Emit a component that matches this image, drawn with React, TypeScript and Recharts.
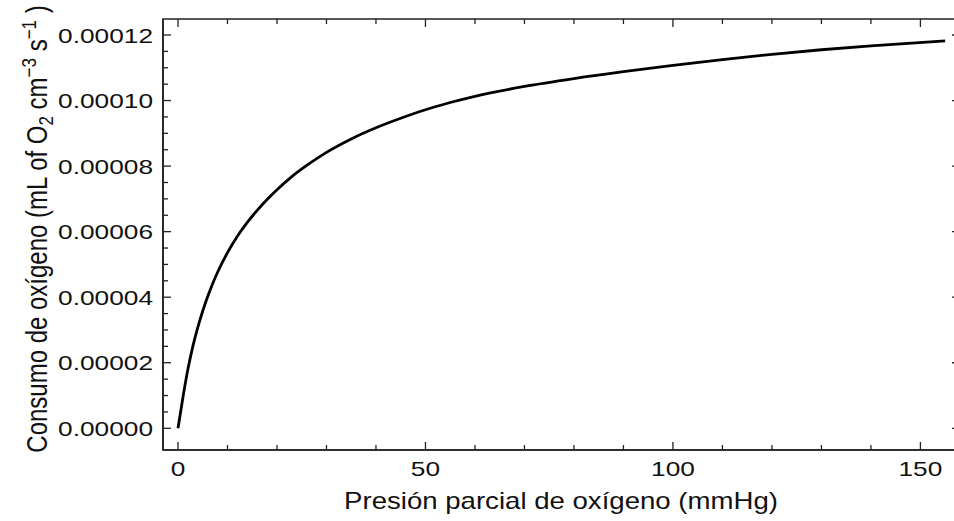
import React from "react";
import { LineChart, Line, XAxis, YAxis, ReferenceArea } from "recharts";

// partial pressure of O2 (mmHg) and the consumption
const pressure = [0, 1, 2, 3, 4, 5, 6, 7, 8, 10, 12, 14, 16, 18, 20, 23, 26, 30, 35, 40, 45, 50, 55, 60, 70, 80, 90, 100, 110, 120, 130, 140, 155];
const consumption = [
    0, 0.95e-5, 1.8e-5, 2.5e-5, 3.08e-5, 3.58e-5, 4.02e-5, 4.41e-5, 4.76e-5, 5.36e-5, 5.86e-5, 6.28e-5, 6.65e-5,
    6.98e-5, 7.28e-5, 7.68e-5, 8.02e-5, 8.42e-5, 8.83e-5, 9.17e-5, 9.46e-5, 9.72e-5, 9.94e-5, 10.13e-5, 10.43e-5,
    10.67e-5, 10.88e-5, 11.07e-5, 11.25e-5, 11.41e-5, 11.55e-5, 11.67e-5, 11.82e-5,
];

const xTicks = [0, 10, 20, 30, 40, 50, 60, 70, 80, 90, 100, 110, 120, 130, 140, 150];
const yTicks = [
    0, 0.000005, 0.00001, 0.000015, 0.00002, 0.000025, 0.00003, 0.000035, 0.00004, 0.000045, 0.00005, 0.000055,
    0.00006, 0.000065, 0.00007, 0.000075, 0.00008, 0.000085, 0.00009, 0.000095, 0.0001, 0.000105, 0.00011,
    0.000115, 0.00012,
];

const rows = pressure.map((p, i) => ({ p, v: consumption[i] }));

const FRAME = "#222";
const FONT = "'Liberation Sans', Arial, sans-serif";
const X_DOMAIN: [number, number] = [-3.03, 158];
const Y_DOMAIN: [number, number] = [-0.00000662, 0.00012488];
const PLOT_TOP = 19;
const PLOT_RIGHT = 960;

const isMajorX = (v: number) => v % 50 === 0;
const isMajorY = (v: number) => Math.round(v * 1e6) % 20 === 0;

// bottom axis tick: inward mark at the bottom and the matching one on the top frame
const BottomTick = (props: any) => {
    const { x, y, payload } = props;
    const len = isMajorX(payload.value) ? 8 : 5;
    return (
        <g>
            <line x1={x} x2={x} y1={y} y2={y - len} stroke={FRAME} strokeWidth={1.3} />
            <line x1={x} x2={x} y1={PLOT_TOP} y2={PLOT_TOP + len} stroke={FRAME} strokeWidth={1.3} />
            {isMajorX(payload.value) && (
                <text
                    transform={`translate(${x},${y + 25.5}) scale(1.25,1)`}
                    textAnchor="middle"
                    fontFamily={FONT}
                    fontSize={21}
                    fill="#111"
                >
                    {payload.value}
                </text>
            )}
        </g>
    );
};

// left axis tick: inward mark on the left, matching one on the right frame
const LeftTick = (props: any) => {
    const { x, y, payload } = props;
    const len = isMajorY(payload.value) ? 8 : 5;
    return (
        <g>
            <path d={`M${x},${y}h${len}`} stroke={FRAME} strokeWidth={1.3} />
            <path d={`M${PLOT_RIGHT},${y}h${-len}`} stroke={FRAME} strokeWidth={1.3} />
            {isMajorY(payload.value) && (
                <text
                    transform={`translate(${x - 10},${y}) scale(1.25,1)`}
                    textAnchor="end"
                    dy="0.36em"
                    fontFamily={FONT}
                    fontSize={21}
                    fill="#111"
                >
                    {payload.value.toFixed(5)}
                </text>
            )}
        </g>
    );
};

const XTitle = () => (
    <text
        transform="translate(561,509) scale(1.2,1)"
        textAnchor="middle"
        fontFamily={FONT}
        fontSize={23}
        fill="#111"
    >
        Presión parcial de oxígeno (mmHg)
    </text>
);

const YTitle = () => (
    <text
        transform="translate(47,229) rotate(-90) scale(1,1.2)"
        textAnchor="middle"
        fontFamily={FONT}
        fontSize={24}
        fill="#111"
    >
        Consumo de oxígeno (mL of O
        <tspan dy={5} fontSize={17}>2</tspan>
        <tspan dy={-5}> cm</tspan>
        <tspan dy={-9} fontSize={17}>−3</tspan>
        <tspan dy={9}> s</tspan>
        <tspan dy={-9} fontSize={17}>−1</tspan>
        <tspan dy={9}> )</tspan>
    </text>
);

const axisLine = { stroke: FRAME, strokeWidth: 1.6 };

export default function App() {
    return (
        <div
            style={{
                position: "absolute",
                left: 0,
                top: 0,
                width: 954,
                height: 521,
                overflow: "hidden",
                background: "#fff",
            }}
        >
            <LineChart width={960} height={521} data={rows} margin={{ top: PLOT_TOP, right: 0, bottom: 0, left: 0 }}>
                <XAxis
                    xAxisId="b"
                    dataKey="p"
                    type="number"
                    domain={X_DOMAIN}
                    allowDataOverflow
                    ticks={xTicks}
                    interval={0}
                    height={71}
                    tickSize={0}
                    tickMargin={0}
                    tickLine={false}
                    axisLine={axisLine}
                    tick={<BottomTick />}
                    label={<XTitle />}
                />
                <YAxis
                    yAxisId="l"
                    type="number"
                    domain={Y_DOMAIN}
                    allowDataOverflow
                    ticks={yTicks}
                    interval={0}
                    width={163}
                    tickSize={0}
                    tickMargin={0}
                    tickLine={false}
                    axisLine={axisLine}
                    tick={<LeftTick />}
                    label={<YTitle />}
                />
                {/* the frame: top and right sides of the box */}
                <ReferenceArea
                    xAxisId="b"
                    yAxisId="l"
                    x1={X_DOMAIN[0]}
                    x2={X_DOMAIN[1]}
                    y1={Y_DOMAIN[0]}
                    y2={Y_DOMAIN[1]}
                    fill="none"
                    stroke={FRAME}
                    strokeWidth={1.6}
                    ifOverflow="visible"
                />
                <Line
                    xAxisId="b"
                    yAxisId="l"
                    dataKey="v"
                    type="monotone"
                    stroke="#000"
                    strokeWidth={2.8}
                    dot={false}
                    activeDot={false}
                    isAnimationActive={false}
                />
            </LineChart>
        </div>
    );
}
